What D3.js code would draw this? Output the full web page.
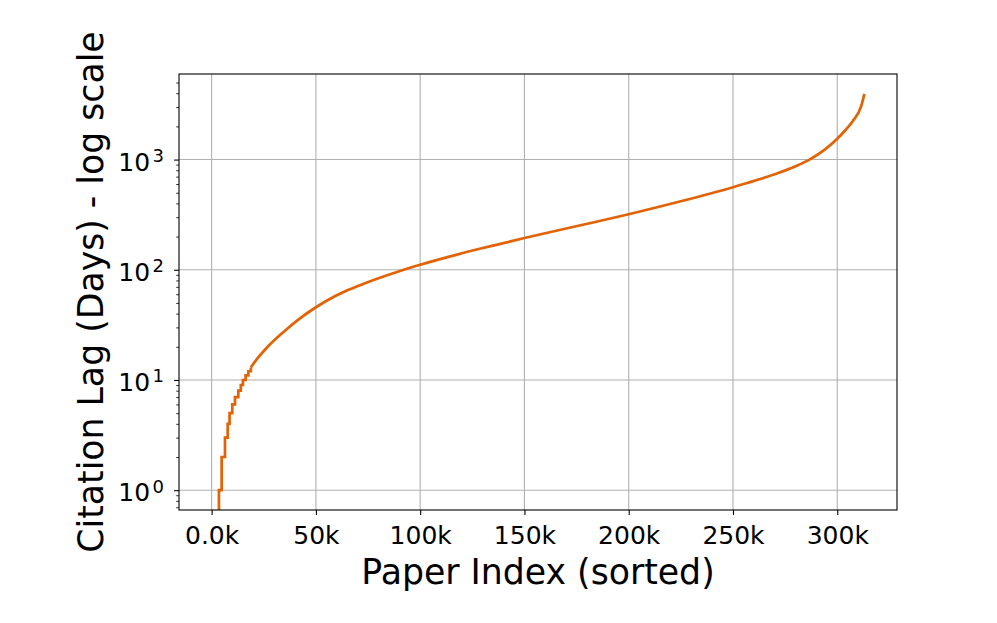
<!DOCTYPE html>
<html>
<head>
<meta charset="utf-8">
<script src="https://cdn.jsdelivr.net/npm/d3@7"></script>
<style>
  html, body { margin: 0; padding: 0; background: #ffffff; }
  svg { display: block; font-family: "DejaVu Sans", sans-serif; }
</style>
</head>
<body>
<svg id="chart" width="997" height="623"></svg>
<script>
// ---- data ----
// low part: integer-day steps (paper index where each lag value begins)
const stepIndex = [0, 3500, 4800, 6400, 7700, 8600, 9900, 11200, 12800, 14000, 15000, 16300, 17600, 18800];
const stepLag   = [0, 1, 2, 3, 4, 5, 6, 7, 8, 9, 10, 11, 12, 13];
// upper part: smooth sorted curve
const curveIndex = [18800, 21400, 26200, 34200, 42200, 50000, 58200, 66000, 74200, 90000, 100000, 114000,
                    128500, 138000, 150000, 176400, 200000, 225000, 250000, 261100, 272000, 280300, 286700,
                    294000, 300000, 304300, 307500, 311500, 313000];
const curveLag   = [13, 15.2, 19.4, 27.0, 36.0, 45.7, 56.3, 66.1, 76.4, 97.1, 110.9, 131.6,
                    155, 171, 194, 252, 319, 418, 561, 648, 758, 874, 1000,
                    1230, 1545, 1884, 2240, 3062, 3950];
const xTickValues = [0, 50000, 100000, 150000, 200000, 250000, 300000];
const xTickLabels = ["0.0k", "50k", "100k", "150k", "200k", "250k", "300k"];
const yTickValues = [1, 10, 100, 1000];
const yTickExponents = ["0", "1", "2", "3"];
const xLabel = "Paper Index (sorted)";
const yLabel = "Citation Lag (Days) - log scale";

// ---- layout ----
const W = 997, H = 623;
const plot = { left: 179, right: 897, top: 74, bottom: 510 };
const lineColor = "#e26204";
const lineWidth = 2.7;

const svg = d3.select("#chart");
svg.append("rect").attr("width", W).attr("height", H).attr("fill", "#ffffff");

// scales with matplotlib-like 5% margins
const xMin = d3.min(stepIndex), xMax = d3.max(curveIndex);
const xPad = (xMax - xMin) * 0.05;
const x = d3.scaleLinear().domain([xMin - xPad, xMax + xPad]).range([plot.left, plot.right]);

const positive = stepLag.concat(curveLag).filter(v => v > 0);
const lmin = Math.log10(d3.min(positive)), lmax = Math.log10(d3.max(positive));
const lpad = (lmax - lmin) * 0.05;
const y = d3.scaleLog().domain([Math.pow(10, lmin - lpad), Math.pow(10, lmax + lpad)]).range([plot.bottom, plot.top]);

// clip
svg.append("defs").append("clipPath").attr("id", "clip")
  .append("rect").attr("x", plot.left).attr("y", plot.top)
  .attr("width", plot.right - plot.left).attr("height", plot.bottom - plot.top);

// grid
const grid = svg.append("g").attr("stroke", "#b0b0b0").attr("stroke-width", 1.1);
grid.selectAll("line.gx").data(xTickValues).enter().append("line")
  .attr("x1", d => x(d)).attr("x2", d => x(d)).attr("y1", plot.top).attr("y2", plot.bottom);
grid.selectAll("line.gy").data(yTickValues).enter().append("line")
  .attr("x1", plot.left).attr("x2", plot.right).attr("y1", d => y(d)).attr("y2", d => y(d));

// data lines
const floorVal = y.domain()[0] / 100; // zero lag is drawn off the bottom (log scale)
const stepData = stepIndex.map((d, i) => [d, stepLag[i]]);
const curveData = curveIndex.map((d, i) => [d, curveLag[i]]);
const gLines = svg.append("g").attr("clip-path", "url(#clip)");
gLines.append("path")
  .attr("d", d3.line().x(d => x(d[0])).y(d => y(d[1] > 0 ? d[1] : floorVal)).curve(d3.curveStepAfter)(stepData))
  .attr("fill", "none").attr("stroke", lineColor).attr("stroke-width", lineWidth).attr("stroke-linejoin", "miter");
gLines.append("path")
  .attr("d", d3.line().x(d => x(d[0])).y(d => y(d[1])).curve(d3.curveMonotoneX)(curveData))
  .attr("fill", "none").attr("stroke", lineColor).attr("stroke-width", lineWidth).attr("stroke-linecap", "butt");

// axes
const xAxis = svg.append("g").attr("transform", `translate(0,${plot.bottom})`)
  .call(d3.axisBottom(x).tickValues(xTickValues).tickFormat((d, i) => xTickLabels[i]).tickSize(4.9).tickSizeOuter(0));
xAxis.select(".domain").remove();
xAxis.selectAll(".tick line").attr("stroke", "#000").attr("stroke-width", 1.1);
xAxis.selectAll(".tick text").attr("y", 34).attr("dy", null)
  .attr("font-size", 25).attr("font-family", "DejaVu Sans").attr("fill", "#000");

const minorVals = [];
for (let e = -1; e <= 4; e++) for (let m = 2; m <= 9; m++) {
  const v = m * Math.pow(10, e);
  if (v >= y.domain()[0] && v <= y.domain()[1]) minorVals.push(v);
}
const yMinor = svg.append("g").attr("transform", `translate(${plot.left},0)`)
  .call(d3.axisLeft(y).tickValues(minorVals).tickFormat("").tickSize(2.8).tickSizeOuter(0));
yMinor.select(".domain").remove();
yMinor.selectAll(".tick line").attr("stroke", "#000").attr("stroke-width", 0.8);

const yAxis = svg.append("g").attr("transform", `translate(${plot.left},0)`)
  .call(d3.axisLeft(y).tickValues(yTickValues).tickFormat("").tickSize(4.9).tickSizeOuter(0));
yAxis.select(".domain").remove();
yAxis.selectAll(".tick line").attr("stroke", "#000").attr("stroke-width", 1.1);
yAxis.selectAll(".tick text").each(function(d, i) {
  const t = d3.select(this).attr("x", -15).attr("dy", null).attr("y", 10.5)
    .attr("font-size", 25).attr("font-family", "DejaVu Sans").attr("fill", "#000")
    .attr("text-anchor", "end");
  t.text(null);
  t.append("tspan").text("10");
  t.append("tspan").attr("font-size", 18).attr("dx", 2.5).attr("dy", -8.5).text(yTickExponents[i]);
});

// spines
svg.append("rect").attr("x", plot.left).attr("y", plot.top)
  .attr("width", plot.right - plot.left).attr("height", plot.bottom - plot.top)
  .attr("fill", "none").attr("stroke", "#000").attr("stroke-width", 1.1);

// axis labels
svg.append("text").attr("x", (plot.left + plot.right) / 2).attr("y", 584)
  .attr("text-anchor", "middle").attr("font-size", 34.7).attr("fill", "#000").text(xLabel);
svg.append("text").attr("transform", `translate(103,${(plot.top + plot.bottom) / 2}) rotate(-90)`)
  .attr("text-anchor", "middle").attr("font-size", 34.7).attr("fill", "#000").text(yLabel);
</script>
</body>
</html>
